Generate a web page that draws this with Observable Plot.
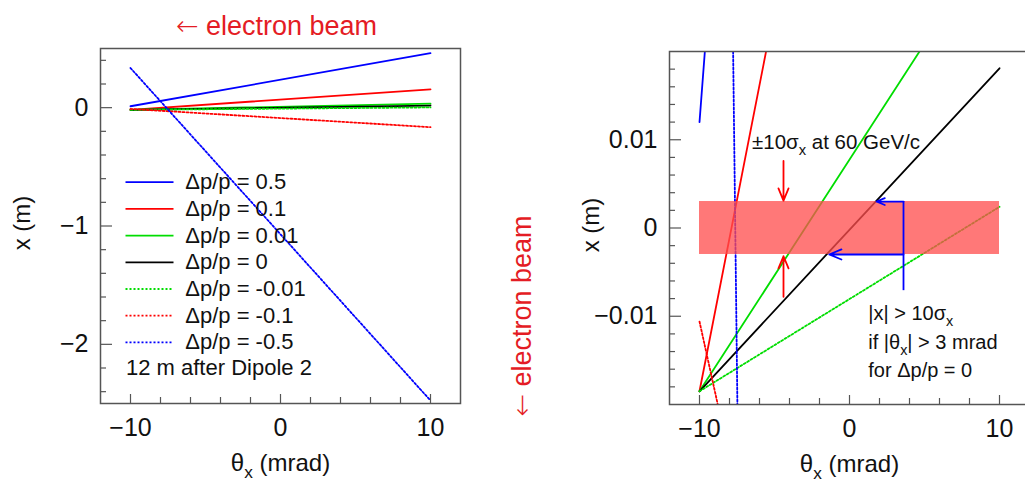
<!DOCTYPE html>
<html>
<head>
<meta charset="utf-8">
<script src="https://cdn.jsdelivr.net/npm/d3@7"></script>
<script src="https://cdn.jsdelivr.net/npm/@observablehq/plot@0.6"></script>
<style>
  html, body { margin: 0; padding: 0; background: #fff; overflow: hidden; }
  #wrap { position: relative; width: 1025px; height: 490px; overflow: hidden; background: #fff; }
  #wrap svg { position: absolute; top: 0; }
</style>
</head>
<body>
<div id="wrap"></div>
<script>
// Δp/p of each trajectory (legend order)
const dppLabels = ["0.5", "0.1", "0.01", "0", "-0.01", "-0.1", "-0.5"];
// Horizontal position x (m) 12 m after Dipole 2, at θx = -10 and +10 mrad
const thetaEnds = [-10, 10];
const xStart = [0.012, -0.0185, -0.0185, -0.0185, -0.0185, -0.0106, 0.335];
const xEnd   = [0.46, 0.155, 0.034, 0.0181, 0.0024, -0.165, -2.475];

// ±10σx beam envelope at 60 GeV/c
const bandTheta = [-10, 10];
const bandHalfWidth = 0.003;

// Arrows pointing at the envelope edges
const redArrows = [
  { theta: -4.4, from: 0.0076, to: 0.0031 },
  { theta: -4.4, from: -0.0078, to: -0.0032 }
];
// Bracket showing where the Δp/p = 0 trajectory leaves the envelope
const bracketTheta = 3.6;
const bracketBottom = -0.0071;
const blueArrows = [
  { from: 3.6, to: 1.8, x: 0.003 },
  { from: 3.6, to: -1.35, x: -0.003 }
];

// Tick values
const leftYMajor = [-2, -1, 0];
const leftYMinor = [-2.4, -2.2, -1.8, -1.6, -1.4, -1.2, -0.8, -0.6, -0.4, -0.2, 0.2, 0.4];
const rightYMajor = [-0.01, 0, 0.01];
const rightYMinor = [-0.018, -0.016, -0.014, -0.012, -0.008, -0.006, -0.004, -0.002,
                     0.002, 0.004, 0.006, 0.008, 0.012, 0.014, 0.016, 0.018];
const xMajor = [-10, 0, 10];
const xMinor = [-8, -6, -4, -2, 2, 4, 6, 8];

// Texts
const xTitle = "θ_x (mrad)";
const yTitle = "x (m)";
const beamText = "← electron beam";
const noteText = "12 m after Dipole 2";
const bandText = [{ theta: -6.5, x: 0.0097, text: "±10σ_x at 60 GeV/c" }];
const cutText = [
  { theta: 1.25, x: -0.0097, text: "|x| > 10σ_x" },
  { theta: 1.25, x: -0.0130, text: "if |θ_x| > 3 mrad" },
  { theta: 1.25, x: -0.0162, text: "for Δp/p = 0" }
];

// Styling
const seriesColors = ["#0000ff", "#ff0000", "#00dd00", "#000000", "#00dd00", "#ff0000", "#0000ff"];
const seriesDashed = [false, false, false, false, true, true, true];
const axisColor = "#555";
const beamRed = "#e41c24";
const font = "'Liberation Sans', Arial, Helvetica, sans-serif";
const lineWidth = 1.8;

// Tick labels: plain numbers with a true minus sign
const tickFmt = (d) => (d < 0 ? "−" : "") + Math.abs(d);

// Long table: one row per (series, θx)
const rows = dppLabels.flatMap((k, i) =>
  thetaEnds.map((t, j) => ({ series: k, theta: t, x: j ? xEnd[i] : xStart[i] }))
);

function trajectoryMarks(clip) {
  return dppLabels.map((k, i) =>
    Plot.line(rows.filter((r) => r.series === k), {
      x: "theta", y: "x",
      stroke: seriesColors[i],
      strokeWidth: lineWidth,
      strokeDasharray: seriesDashed[i] ? "2,2" : null,
      clip
    })
  );
}

function axisMarks(yMajor, yMinor) {
  return [
    Plot.axisY(yMajor, { anchor: "left", tickSize: -12, fill: "none", label: null, stroke: axisColor, strokeWidth: 1.2 }),
    Plot.axisY(yMinor, { anchor: "left", tickSize: -6, fill: "none", label: null, stroke: axisColor, strokeWidth: 1.2 }),
    Plot.axisY(yMajor, { anchor: "left", tickSize: 0, tickPadding: 12, fontSize: 25, label: null, fill: "#111", tickFormat: tickFmt }),
    Plot.axisX(xMajor, { anchor: "bottom", tickSize: -9, fill: "none", label: null, stroke: axisColor, strokeWidth: 1.2 }),
    Plot.axisX(xMinor, { anchor: "bottom", tickSize: -6, fill: "none", label: null, stroke: axisColor, strokeWidth: 1.2 }),
    Plot.axisX(xMajor, { anchor: "bottom", tickSize: 0, tickPadding: 15, fontSize: 25, label: null, fill: "#111", tickFormat: tickFmt }),
    Plot.text([xTitle], { frameAnchor: "bottom", dy: 67, fontSize: 24, fill: "#111", textAnchor: "middle" }),
    Plot.text([yTitle], { frameAnchor: "left", dx: -78, dy: -3, rotate: -90, fontSize: 24, fill: "#111", textAnchor: "middle" }),
    Plot.frame({ stroke: axisColor, strokeWidth: 1.5 })
  ];
}

// Legend layout (in the left panel's data units)
const legendTop = -0.63;
const legendStep = 0.2256;
const legendLineTheta = [-10.3, -7.1];
const legendTextTheta = -6.35;
const legendRows = dppLabels.map((k, i) => ({ k, i, y: legendTop - i * legendStep }));

const left = Plot.plot({
  width: 569, height: 490,
  marginLeft: 100, marginRight: 109, marginTop: 48, marginBottom: 87,
  x: { domain: [-12, 12] },
  y: { domain: [-2.5, 0.5] },
  style: { fontFamily: font, background: "transparent", overflow: "visible", color: "#111" },
  marks: [
    ...trajectoryMarks(false),
    ...legendRows.map((r) =>
      Plot.ruleY([r.y], {
        x1: legendLineTheta[0], x2: legendLineTheta[1],
        stroke: seriesColors[r.i], strokeWidth: lineWidth,
        strokeDasharray: seriesDashed[r.i] ? "2,2" : null
      })
    ),
    Plot.text(legendRows, { x: legendTextTheta, y: "y", text: (d) => `Δp/p = ${d.k}`, textAnchor: "start", fontSize: 22, fill: "#111" }),
    Plot.text([noteText], { x: legendLineTheta[0], y: legendTop - 7 * legendStep + 0.01, textAnchor: "start", fontSize: 22, fill: "#111" }),
    ...axisMarks(leftYMajor, leftYMinor),
    Plot.text([beamText], { frameAnchor: "top", dx: -4, dy: -33, fontSize: 27, fill: beamRed, textAnchor: "middle" }),
    Plot.text([beamText], { frameAnchor: "right", dx: 62, dy: 90, rotate: -90, fontSize: 27, fill: beamRed, textAnchor: "middle" })
  ]
});

const right = Plot.plot({
  width: 461, height: 490,
  marginLeft: 100, marginRight: 1, marginTop: 51, marginBottom: 86,
  x: { domain: [-12, 12] },
  y: { domain: [-0.02, 0.02] },
  style: { fontFamily: font, background: "transparent", overflow: "visible", color: "#111" },
  marks: [
    ...trajectoryMarks(true),
    Plot.rect([bandTheta], {
      x1: (d) => d[0], x2: (d) => d[1],
      y1: -bandHalfWidth, y2: bandHalfWidth,
      fill: "#ff4d4d", fillOpacity: 0.76
    }),
    Plot.arrow(redArrows, { x1: "theta", y1: "from", x2: "theta", y2: "to", stroke: "#ff0000", strokeWidth: 1.8, headLength: 11, headAngle: 45 }),
    Plot.ruleX([bracketTheta], { y1: bracketBottom, y2: bandHalfWidth, stroke: "#0000ff", strokeWidth: 1.8 }),
    Plot.arrow(blueArrows, { x1: "from", y1: "x", x2: "to", y2: "x", stroke: "#0000ff", strokeWidth: 1.8, headLength: 11, headAngle: 45 }),
    Plot.text(bandText, { x: "theta", y: "x", text: "text", textAnchor: "start", fontSize: 20.5, fill: "#111" }),
    Plot.text(cutText, { x: "theta", y: "x", text: "text", textAnchor: "start", fontSize: 20, fill: "#111" }),
    ...axisMarks(rightYMajor, rightYMinor)
  ]
});

left.style.left = "0px";
right.style.left = "569px";
const wrap = document.getElementById("wrap");
wrap.append(left, right);

// Turn "_x" into a lowered, smaller subscript; draw the beam arrow glyph wider
function styleTexts(svg) {
  svg.querySelectorAll("text").forEach((el) => {
    const s = el.textContent;
    if (s.startsWith("← ")) {
      el.textContent = "";
      const a = document.createElementNS("http://www.w3.org/2000/svg", "tspan");
      a.textContent = "←";
      a.setAttribute("font-family", "'DejaVu Sans', sans-serif");
      a.setAttribute("font-weight", "200");
      const b = document.createElementNS("http://www.w3.org/2000/svg", "tspan");
      b.textContent = s.slice(1);
      el.append(a, b);
      return;
    }
    if (!s.includes("_")) return;
    const fs = parseFloat(getComputedStyle(el).fontSize) || 20;
    const shift = fs * 0.3;
    const parts = s.split(/_(\w)/);
    el.textContent = "";
    let lowered = false;
    parts.forEach((p, i) => {
      if (p === "") return;
      const t = document.createElementNS("http://www.w3.org/2000/svg", "tspan");
      t.textContent = p;
      if (i % 2 === 1) {
        t.setAttribute("font-size", fs * 0.72);
        t.setAttribute("dy", shift);
        lowered = true;
      } else if (lowered) {
        t.setAttribute("dy", -shift);
        lowered = false;
      }
      el.appendChild(t);
    });
  });
}
styleTexts(left);
styleTexts(right);
</script>
</body>
</html>
